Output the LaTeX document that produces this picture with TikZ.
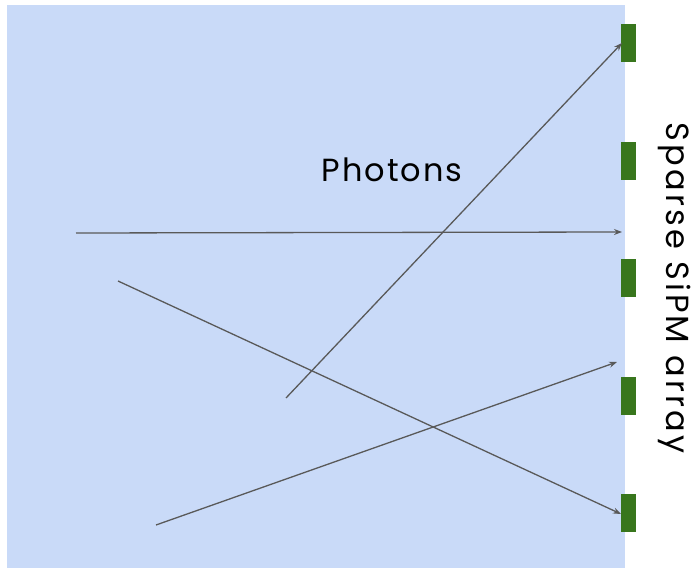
\documentclass[tikz,border=0pt]{standalone}
\usepackage{fontspec}
\setmainfont{Poppins}
\usetikzlibrary{arrows.meta}
\definecolor{detblue}{HTML}{C9DAF8}
\definecolor{sipmgreen}{HTML}{38761D}
\definecolor{raygray}{HTML}{595959}
\tikzset{
  sipm/.style={fill=sipmgreen, draw=none},
  ray/.style={-{Stealth[length=8pt,width=6pt]}, raygray, line width=1.3pt}
}
\begin{document}
\begin{tikzpicture}[x=1pt, y=-1pt]
    \useasboundingbox (0,0) rectangle (694,569);

    % The scintillator volume
    \fill[detblue] (7,5) rectangle (625,568);

    % Sparse SiPMs along the right edge
    \foreach \i/\y in {1/24, 2/142, 3/259, 4/377, 5/494}
      \path[sipm] (621,\y) rectangle (636,\y+38) coordinate (s\i);

    % Photon paths
    \coordinate (a0) at (76,233);   \coordinate (a1) at (622,232);
    \coordinate (b0) at (286,398);  \coordinate (b1) at (622,43);
    \coordinate (c0) at (118,281);  \coordinate (c1) at (621,514);
    \coordinate (d0) at (156,525);  \coordinate (d1) at (617,362);
    \draw[ray] (a0) -- (a1);
    \draw[ray] (b0) -- (b1);
    \draw[ray] (c0) -- (c1);
    \draw[ray] (d0) -- (d1);

    % Labels
    \node (photons) at (392,170)
      {\fontsize{32}{35}\selectfont\addfontfeatures{LetterSpace=6}Photons};
    \node[rotate=-90] (array) at (675,288)
      {\fontsize{32}{35}\selectfont\addfontfeatures{LetterSpace=10}Sparse SiPM array};
  \end{tikzpicture}
\end{document}
